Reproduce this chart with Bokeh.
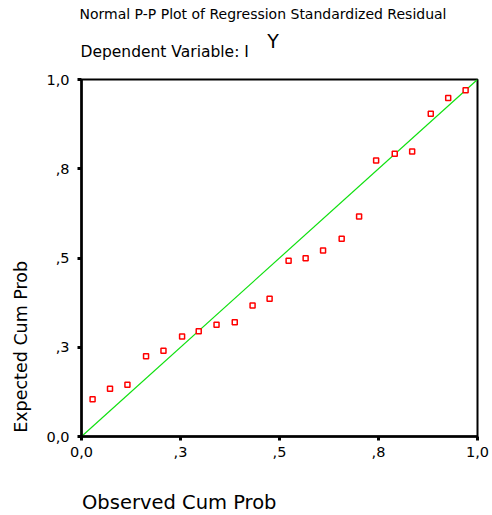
import math
from bokeh.plotting import figure
from bokeh.layouts import column, row
from bokeh.models import Range1d, FixedTicker, Label
from bokeh.embed import file_html
from bokeh.resources import INLINE

# Observed vs expected cumulative probabilities of the standardized residuals
observed_cum_prob = [0.028, 0.072, 0.116, 0.163, 0.207, 0.254, 0.296, 0.341,
                     0.387, 0.432, 0.475, 0.523, 0.566, 0.610, 0.657, 0.701,
                     0.744, 0.791, 0.835, 0.882, 0.926, 0.970]
expected_cum_prob = [0.104, 0.134, 0.145, 0.225, 0.240, 0.280, 0.295, 0.313,
                     0.320, 0.367, 0.386, 0.492, 0.499, 0.521, 0.554, 0.616,
                     0.773, 0.792, 0.798, 0.904, 0.948, 0.970]

tick_values = [0, 0.25, 0.5, 0.75, 1]
tick_labels = ["0,0", ",3", ",5", ",8", "1,0"]

chart_title = "Normal P-P Plot of Regression Standardized Residual"
dependent_prefix = "Dependent Variable: I"
dependent_name = "Y"
x_title = "Observed Cum Prob"
y_title = "Expected Cum Prob"

FONT = "DejaVu Sans"
TOTAL_W, TOP_H, MID_H, BOTTOM_H, LEFT_W = 492, 64, 406, 45, 40


def text_panel(width, height, y_top):
    """A plain white strip whose data coordinates are page pixels (y downwards)."""
    f = figure(width=width, height=height, output_backend="svg", toolbar_location=None,
               x_range=Range1d(0, width), y_range=Range1d(y_top + height, y_top),
               x_axis_type=None, y_axis_type=None, title_location=None,
               min_border=0)
    f.outline_line_color = None
    f.xgrid.visible = False
    f.ygrid.visible = False
    f.background_fill_color = "white"
    f.border_fill_color = "white"
    return f


def put(f, text, x, y, size, angle=0.0, align="left", baseline="alphabetic"):
    f.add_layout(Label(x=x, y=y, text=text, text_font=FONT, text_font_size=size,
                       text_color="black", text_align=align,
                       text_baseline=baseline, angle=angle))


# titles above the chart
top = text_panel(TOTAL_W, TOP_H, 0)
put(top, chart_title, 79, 13, "14px")
put(top, dependent_prefix, 80, 51.2, "15.5px")
put(top, dependent_name, 272.5, 40.5, "19px", align="center")

# vertical axis title
left = text_panel(LEFT_W, MID_H, TOP_H)
put(left, y_title, 20, 368, "17.5px", angle=math.pi / 2, align="center", baseline="middle")

# horizontal axis title
bottom = text_panel(TOTAL_W, BOTTOM_H, TOP_H + MID_H)
put(bottom, x_title, 81.5, 501.5, "19.5px")

# the P-P plot itself
p = figure(width=TOTAL_W - LEFT_W, height=MID_H, output_backend="svg",
           toolbar_location=None, title_location=None,
           x_range=Range1d(0, 1), y_range=Range1d(0, 1),
           min_border_left=41, min_border_right=15,
           min_border_top=15, min_border_bottom=34)
p.background_fill_color = "white"
p.border_fill_color = "white"
p.outline_line_color = "black"
p.outline_line_width = 2
p.xgrid.visible = False
p.ygrid.visible = False

overrides = {v: lab for v, lab in zip(tick_values, tick_labels)}
for ax in (p.xaxis[0], p.yaxis[0]):
    ax.ticker = FixedTicker(ticks=tick_values)
    ax.major_label_overrides = overrides
    ax.axis_line_color = "black"
    ax.axis_line_width = 2.5
    ax.major_tick_in = 0
    ax.major_tick_out = 4
    ax.major_tick_line_width = 3
    ax.major_tick_line_color = "black"
    ax.minor_tick_line_color = None
    ax.major_label_text_font = FONT
    ax.major_label_text_font_size = "14.5px"
    ax.major_label_text_color = "black"
p.xaxis[0].major_label_standoff = 6
p.yaxis[0].major_label_standoff = 8

# reference diagonal
p.line([0, 1], [0, 1], line_color="#10e010", line_width=1.2)

# residual points
p.scatter(observed_cum_prob, expected_cum_prob, marker="square", size=5,
          fill_color="white", line_color="#ff0000", line_width=1.5)

layout = column(top, row(left, p), bottom)
open("out.html", "w").write(file_html(layout, INLINE))
